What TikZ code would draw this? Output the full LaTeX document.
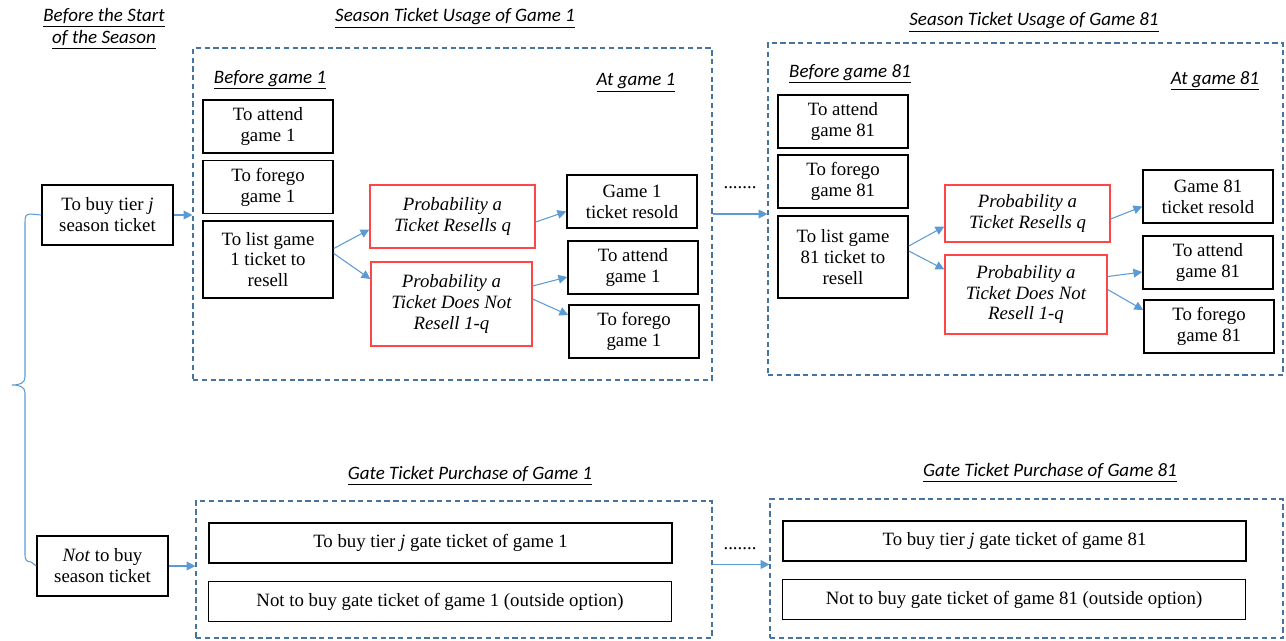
\documentclass[tikz,border=0pt]{standalone}
\usepackage{fontspec}
\setmainfont{Liberation Serif}
\newfontfamily\serfam{Liberation Serif}
\newfontfamily\headfam{Carlito}
\usetikzlibrary{arrows.meta}
\definecolor{linkblue}{RGB}{91,155,213}
\definecolor{stageblue}{RGB}{70,115,160}
\definecolor{probred}{RGB}{255,70,70}
\newcommand{\boxfont}{\serfam\fontsize{10.7}{11.9}\selectfont}
\newcommand{\headfont}{\headfam\itshape\fontsize{10.8}{12.8}\selectfont}
\tikzset{choice/.style={draw, line width=0.9pt, minimum width=2.6cm, minimum height=1.06cm,
                        align=center, inner sep=1pt, font=\boxfont},
         prob/.style={choice, draw=probred, line width=0.8pt, font=\boxfont\itshape},
         wide/.style={choice, minimum width=9.26cm, minimum height=0.8cm},
         stage/.style={draw=stageblue, dash pattern=on 3pt off 2pt, line width=0.7pt},
         head/.style={font=\headfont, align=center, inner sep=0pt},
         link/.style={-{Triangle[length=5pt,width=5pt]}, draw=linkblue, line width=0.6pt}}

\begin{document}
\begin{tikzpicture}[x=0.02cm, y=-0.02cm]
            \useasboundingbox (0,0) rectangle (1286,640);

            % stages
            \node[stage, minimum width=10.38cm, minimum height=6.64cm] (stageA) at (452.5,214) {};
            \node[stage, minimum width=10.3cm, minimum height=6.64cm] (stageB) at (1025.5,209) {};
            \node[stage, minimum width=10.32cm, minimum height=2.74cm] (stageC) at (454,569.5) {};
            \node[stage, minimum width=10.26cm, minimum height=2.78cm] (stageD) at (1026.5,568.5) {};

            % headings
            \node[head] (hstart) at (104,29) {\underline{Before the Start}\\\underline{of the Season}};
            \node[head] (hA) at (455,18) {\underline{Season Ticket Usage of Game 1}};
            \node[head] (hB) at (1034,22) {\underline{Season Ticket Usage of Game 81}};
            \node[head] (bef1) at (270,80) {\underline{Before game 1}};
            \node[head] (at1) at (636,83) {\underline{At game 1}};
            \node[head] (bef81) at (850,74) {\underline{Before game 81}};
            \node[head] (at81) at (1215,81) {\underline{At game 81}};
            \node[head] (hC) at (470,476) {\underline{Gate Ticket Purchase of Game 1}};
            \node[head] (hD) at (1050,473) {\underline{Gate Ticket Purchase of Game 81}};

            % before the season
            \node[choice, minimum width=2.62cm, minimum height=1.2cm] (buy) at (107.5,215) {To buy tier \textit{j}\\season ticket};
            \node[choice, minimum width=2.62cm, minimum height=1.2cm] (notbuy) at (102.5,566) {\textit{Not} to buy\\season ticket};
            \coordinate (fork) at (12,385);

            % game 1
            \node[choice] (att1) at (268,126.5) {To attend\\game 1};
            \node[choice] (for1) at (268,187) {To forego\\game 1};
            \node[choice, minimum height=1.54cm] (list1) at (268,259.5) {To list game\\1 ticket to\\resell};
            \node[prob, minimum width=3.3cm, minimum height=1.26cm] (res1) at (452.5,216.5) {Probability a\\Ticket Resells q};
            \node[prob, minimum width=3.22cm, minimum height=1.68cm] (nres1) at (451.5,304) {Probability a\\Ticket Does Not\\Resell 1-q};
            \node[choice] (sold1) at (632,201.5) {Game 1\\ticket resold};
            \node[choice] (att1b) at (633,267.5) {To attend\\game 1};
            \node[choice] (for1b) at (634,331.5) {To forego\\game 1};

            % game 81
            \node[choice] (att81) at (843,121.5) {To attend\\game 81};
            \node[choice] (for81) at (843,181.5) {To forego\\game 81};
            \node[choice, minimum height=1.64cm] (list81) at (843,257) {To list game\\81 ticket to\\resell};
            \node[prob, minimum width=3.3cm, minimum height=1.14cm] (res81) at (1027.5,213.5) {Probability a\\Ticket Resells q};
            \node[prob, minimum width=3.24cm, minimum height=1.58cm] (nres81) at (1026,294.5) {Probability a\\Ticket Does Not\\Resell 1-q};
            \node[choice] (sold81) at (1208,196.5) {Game 81\\ticket resold};
            \node[choice] (att81b) at (1208,262.5) {To attend\\game 81};
            \node[choice] (for81b) at (1209,326.5) {To forego\\game 81};

            % gate tickets
            \node[wide] (gate1) at (440.5,543) {To buy tier \textit{j} gate ticket of game 1};
            \node[wide] (out1) at (440,601.5) {Not to buy gate ticket of game 1 (outside option)};
            \node[wide] (gate81) at (1014.5,541) {To buy tier \textit{j} gate ticket of game 81};
            \node[wide] (out81) at (1014,599.5) {Not to buy gate ticket of game 81 (outside option)};

            \node[font=\boxfont] (dotsA) at (740,188) {.......};
            \node[font=\boxfont] (dotsC) at (740,549) {.......};

            % bracket
            \draw[linkblue, line width=0.6pt] (buy.west) -- (31,214) .. controls (26,214) and (25,216) .. (25,222)
                    -- (25,377) .. controls (25,383) and (20,385) .. (fork)
                    .. controls (20,385) and (25,387) .. (25,393)
                    -- (25,555) .. controls (25,560) and (27,562) .. (31,562) -- (notbuy.west);

            \draw[link] (buy.east) -- (buy.east -| stageA.west);
            \draw[link] (notbuy.east) -- (notbuy.east -| stageC.west);
            \draw[link] (stageA.east) -- (stageA.east -| stageB.west);
            \draw[link] ([yshift=0.1cm]stageC.east) -- ([yshift=0.1cm]stageC.east -| stageD.west);

            \draw[link] ([yshift=0.22cm]list1.east) -- ([yshift=-0.26cm]res1.west);
            \draw[link] ([yshift=0.12cm]list1.east) -- ([yshift=0.5cm]nres1.west);
            \draw[link] ([yshift=-0.11cm]res1.east) -- ([yshift=-0.2cm]sold1.west);
            \draw[link] ([yshift=0.36cm]nres1.east) -- ([yshift=-0.19cm]att1b.west);
            \draw[link] ([yshift=0.1cm]nres1.east) -- ([yshift=0.33cm]for1b.west);

            \draw[link] ([yshift=0.22cm]list81.east) -- ([yshift=-0.26cm]res81.west);
            \draw[link] ([yshift=0.12cm]list81.east) -- ([yshift=0.5cm]nres81.west);
            \draw[link] ([yshift=-0.11cm]res81.east) -- ([yshift=-0.2cm]sold81.west);
            \draw[link] ([yshift=0.36cm]nres81.east) -- ([yshift=-0.19cm]att81b.west);
            \draw[link] ([yshift=0.1cm]nres81.east) -- ([yshift=0.33cm]for81b.west);
\end{tikzpicture}
\end{document}
